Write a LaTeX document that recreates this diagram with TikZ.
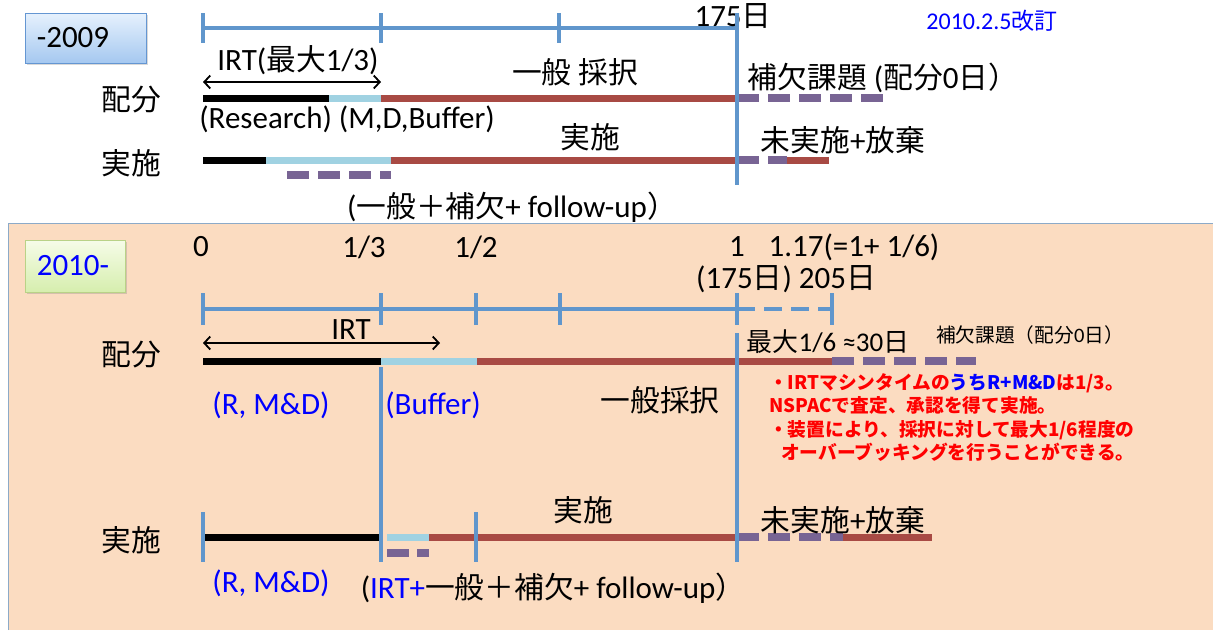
\documentclass[tikz,border=0pt]{standalone}
\usepackage{fontspec}
\setmainfont{Carlito}
\newfontfamily\jpfont[Scale=0.96]{Noto Sans CJK JP}
\usepackage{xcolor}
\usepackage{tikz}
\usetikzlibrary{positioning, arrows.meta, shadows}

\newcommand{\ja}[1]{{\jpfont #1}}

\definecolor{axisblue}{RGB}{96,150,204}
\definecolor{barred}{RGB}{168,74,68}
\definecolor{barcyan}{RGB}{160,210,226}
\definecolor{sparepurple}{RGB}{120,100,148}
\definecolor{peach}{RGB}{251,220,193}
\definecolor{framegray}{RGB}{140,170,200}

\begin{document}
\begin{tikzpicture}[
    x=1pt, y=-1pt,
    every node/.style={inner sep=0pt, font=\fontsize{31}{36}\selectfont},
    axis/.style={draw=axisblue, line width=3.5pt},
    bar/.style={line width=7pt},
    spare/.style={draw=sparepurple, line width=7.5pt, dash pattern=on 22pt off 9pt},
    yearbox/.style={rectangle, minimum height=50pt, line width=0.8pt, drop shadow={opacity=0.3, shadow xshift=2pt, shadow yshift=-2pt}},
    irtarrow/.style={{Straight Barb[length=6pt, width=13pt]}-{Straight Barb[length=6pt, width=13pt]}, line width=1.8pt},
    bluetxt/.style={text=blue},
    smalltxt/.style={font=\fontsize{20.5}{24}\selectfont},
    note/.style={text=red, font=\jpfont\bfseries\fontsize{19.5}{23.5}\selectfont, align=left, anchor=north west}
]
\useasboundingbox (0,0) rectangle (1213,630);

% 2010- background
\fill[peach] (8,223) rectangle (1213,630);
\draw[framegray, line width=0.8pt] (8,630) -- (8,223) -- (1213,223);

% ---------------- -2009 ----------------
\node[yearbox, minimum width=121pt, draw={rgb,255:red,100;green,150;blue,210}, top color={rgb,255:red,230;green,241;blue,253}, bottom color={rgb,255:red,165;green,200;blue,240}] (box09) at (85.5,38) {};
\node[right=12pt of box09.west] (yr09) {-2009};
\node[bluetxt, font=\fontsize{24}{28}\selectfont] (rev) at (992,21) {2010.2.5\ja{改訂}};

% time axis
\coordinate (a0) at (203,28);
\coordinate (a3) at (737,28);
\draw[axis] (a0) -- (a3);
\foreach \x in {203,381,559}
    \draw[axis] (\x,13) -- (\x,43);
\node (d175) at (733,16) {175\ja{日}};

% IRT range
\node (irt09) at (298,60) {IRT(\ja{最大}1/3)};
\coordinate (irt09L) at (203,82);
\coordinate (irt09R) at (381,82);
\draw[irtarrow] (irt09L) -- (irt09R);
\node (gen09) at (575,72) {\ja{一般 採択}};

% allocation
\node (alloc09) at (131,100) {\ja{配分}};
\draw[bar, black] (203,98) -- (329,98);
\draw[bar, barcyan] (329,98) -- (381,98);
\draw[bar, barred] (381,98) -- (737,98);
\draw[spare] (737,98) -- (890,98);
\node (rsch09) at (347,119) {(Research) (M,D,Buffer)};
\node (sub09) at (883,78) {\ja{補欠課題} (\ja{配分}0\ja{日）}};

% execution
\node (exec09) at (131,163) {\ja{実施}};
\node (execm09) at (590,137) {\ja{実施}};
\draw[bar, black] (203,160) -- (266,160);
\draw[bar, barcyan] (266,160) -- (391,160);
\draw[bar, barred] (391,160) -- (737,160);
\draw[spare] (737,160) -- (787,160);
\draw[bar, barred] (787,160) -- (829,160);
\draw[spare] (287,175) -- (391,175);
\node (drop09) at (843,140) {\ja{未実施}+\ja{放棄}};
\node (fol09) at (512,207) {(\ja{一般＋補欠}+ follow-up\ja{）}};

\draw[axis] (737,13) -- (737,185);

% ---------------- 2010- ----------------
\node[yearbox, minimum width=100pt, minimum height=52pt, draw={rgb,255:red,185;green,210;blue,135}, top color={rgb,255:red,246;green,252;blue,232}, bottom color={rgb,255:red,214;green,238;blue,174}] (box10) at (75,266) {};
\node[bluetxt, right=12pt of box10.west] (yr10) {2010-};

% scale labels
\node (s0) at (201,247) {0};
\node (s13) at (364,247) {1/3};
\node (s12) at (476,247) {1/2};
\node (s1) at (737,247) {1};
\node (s117) at (854,247) {1.17(=1+ 1/6)};
\node (days10) at (786,279) {(175\ja{日}) 205\ja{日}};

% time axis
\coordinate (b0) at (203,309);
\coordinate (b4) at (737,309);
\coordinate (b5) at (832,309);
\draw[axis] (b0) -- (b4);
\draw[axis, dash pattern=on 18pt off 9pt] (b4) -- (b5);
\foreach \x in {203,381,476,560,737,832}
    \draw[axis] (\x,293) -- (\x,325);

% IRT range
\node (irt10) at (351,330) {IRT};
\coordinate (irt10L) at (203,343);
\coordinate (irt10R) at (440,343);
\draw[irtarrow] (irt10L) -- (irt10R);

% allocation
\node (alloc10) at (131,355) {\ja{配分}};
\draw[bar, black] (203,361) -- (381,361);
\draw[bar, barcyan] (381,361) -- (477,361);
\draw[bar, barred] (477,361) -- (832,361);
\draw[spare] (832,361) -- (976,361);
\node[font=\fontsize{27}{32}\selectfont] (over10) at (828,342) {\ja{最大}1/6 ≈30\ja{日}};
\node[smalltxt] (sub10) at (1030,335) {\ja{補欠課題（配分}0\ja{日）}};
\node[bluetxt] (rmd10) at (271,405) {(R, M\&D)};
\node[bluetxt] (buf10) at (433,405) {(Buffer)};
\node (gen10) at (660,400) {\ja{一般採択}};
\node[note] (memo) at (769,373) {・IRTマシンタイムの{\color{blue}うちR+M\&D}は1/3。\\
NSPACで査定、承認を得て実施。\\
・装置により、採択に対して最大1/6程度の\\
\hspace*{12pt}オーバーブッキングを行うことができる。};

% execution
\node (exec10) at (131,540) {\ja{実施}};
\node (execm10) at (583,510) {\ja{実施}};
\draw[bar, black] (203,537) -- (380,537);
\draw[bar, barcyan] (387,537) -- (429,537);
\draw[bar, barred] (429,537) -- (737,537);
\draw[spare] (737,537) -- (843,537);
\draw[bar, barred] (843,537) -- (932,537);
\draw[spare, dash pattern=on 22pt off 8pt] (387,553) -- (429,553);
\foreach \x in {203,476}
    \draw[axis] (\x,512) -- (\x,562);
\node (drop10) at (843,520) {\ja{未実施}+\ja{放棄}};
\node[bluetxt] (rmd10b) at (271,583) {(R, M\&D)};
\node (fol10) at (553,588) {({\color{blue}IRT+}\ja{一般＋補欠}+ follow-up\ja{）}};

% separators
\draw[axis] (381,367) -- (381,562);
\draw[axis] (737,333) -- (737,562);

\end{tikzpicture}
\end{document}
